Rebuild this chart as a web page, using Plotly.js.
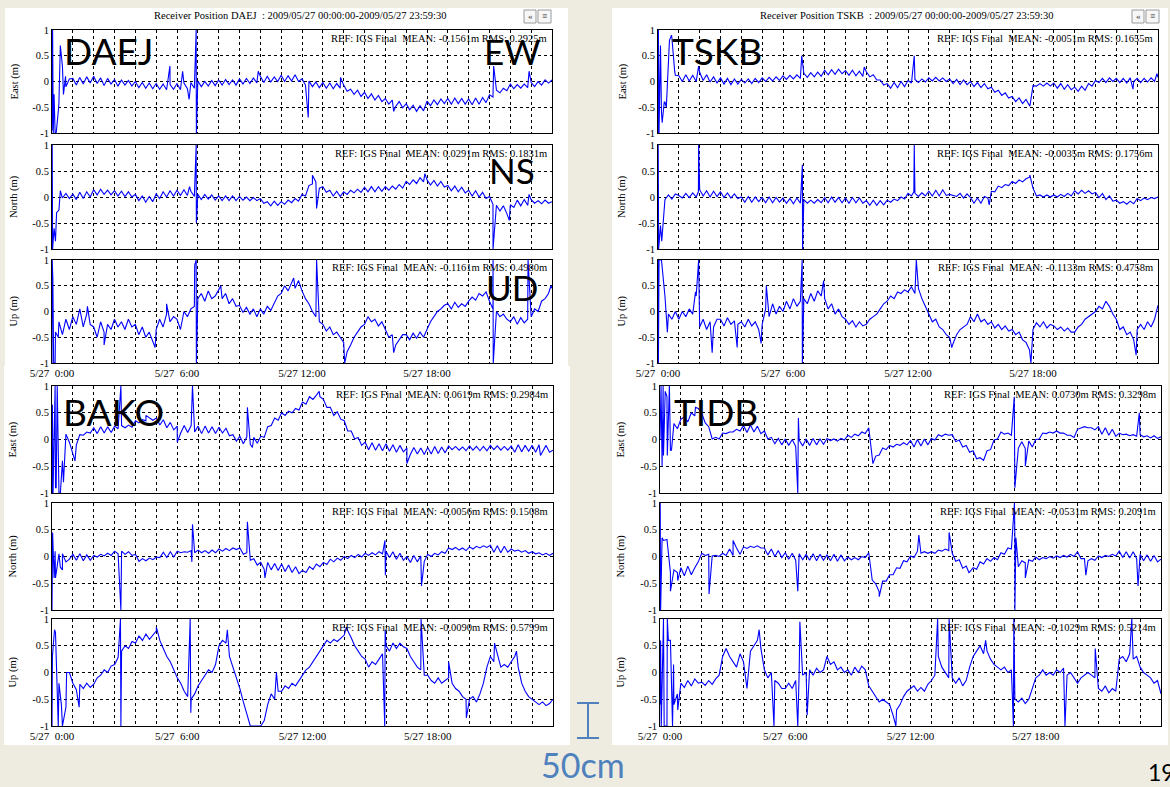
<!DOCTYPE html>
<html><head><meta charset="utf-8">
<script src="https://cdn.plot.ly/plotly-3.0.1.min.js"></script>
<style>html,body{margin:0;padding:0;background:#EEECE1;}#chart{width:1170px;height:787px;}</style>
</head><body><div id="chart"></div>
<script>
// ---------------- DATA ----------------
const STEP = 1/6; // hours between base samples (10 min), 00:00 .. 24:00
const hourTicks = [0,1,2,3,4,5,6,7,8,9,10,11,12,13,14,15,16,17,18,19,20,21,22,23,24];
const hourLabels = ['5/27\u00a0\u00a00:00','','','','','','5/27\u00a0\u00a06:00','','','','','','5/27 12:00','','','','','','5/27 18:00','','','','','',''];
const yTicks = [-1,-0.5,0,0.5,1];
const yLabels = ['-1','-0.5','0','0.5','1'];
const components = ['East (m)','North (m)','Up (m)'];
const panelTitles = ['Receiver Position DAEJ\u00a0\u00a0: 2009/05/27 00:00:00-2009/05/27 23:59:30',
                     'Receiver Position TSKB\u00a0\u00a0: 2009/05/27 00:00:00-2009/05/27 23:59:30'];

// DAEJ
const daejEast = [
 -0.95,-1.0,-0.4,0.3,-0.1,0.05, 0.06,-0.07,0.08,-0.05,0.09,-0.03, 0.1,-0.04,0.07,-0.08,0.06,-0.05,
 0.04,-0.09,0.03,-0.07,0.02,-0.09, 0.0,-0.12,-0.02,-0.13,-0.03,-0.14, -0.04,-0.15,-0.05,-0.16,-0.06,-0.15,
 -0.04,-0.16,-0.03,-0.14,-0.02,-0.13, 0.01,-0.1,0.0,-0.09,0.02,-0.08, 0.03,-0.07,0.04,-0.06,0.03,-0.07,
 0.05,-0.05,0.06,-0.04,0.07,-0.03, 0.1,-0.02,0.1,-0.01,0.09,0.0, 0.12,0.0,0.11,0.01,0.13,0.0,
 0.05,-0.07,0.01,-0.1,-0.01,-0.12, -0.02,-0.13,-0.03,-0.14,-0.04,-0.13, -0.07,-0.19,-0.15,-0.25,-0.17,-0.29,
 -0.21,-0.33,-0.24,-0.36,-0.27,-0.39, -0.33,-0.44,-0.36,-0.48,-0.39,-0.51, -0.43,-0.55,-0.46,-0.58,-0.47,-0.57,
 -0.38,-0.47,-0.36,-0.45,-0.34,-0.43, -0.33,-0.44,-0.32,-0.43,-0.33,-0.44, -0.34,-0.45,-0.32,-0.44,-0.31,-0.41,
 -0.26,-0.3,-0.17,-0.22,-0.13,-0.18, -0.05,-0.14,-0.06,-0.13,-0.05,-0.12, -0.02,-0.1,0.0,-0.07,0.03,-0.03, 0.03];
const daejEastSpikes = [[0.03,1.0],[0.06,-1.0],[0.1,-0.25],[0.15,-1.0],[0.2,-1.0],[0.32,-0.5],[0.4,0.7],[0.55,-0.25],[0.65,0.1],
 [5.66,0.3],[6.27,0.2],[6.58,-0.35],[6.92,1.0],[6.93,-1.0],[9.9,0.2],[12.3,-0.7],[13.85,0.08],[16.4,-0.58],[21.2,0.3],[22.9,0.2]];
const daejNorth = [
 -1.0,-0.85,-0.25,-0.02,0.07,-0.03, 0.06,-0.05,0.09,-0.03,0.1,0.0, 0.14,0.04,0.15,0.05,0.13,0.04,
 0.12,0.02,0.11,0.01,0.1,0.0, 0.05,-0.07,0.02,-0.1,0.01,-0.09, 0.06,-0.03,0.1,0.0,0.12,0.02,
 0.13,0.03,0.14,0.03,0.11,0.01, 0.05,-0.05,0.05,-0.04,0.04,-0.06, 0.02,-0.07,0.02,-0.07,0.02,-0.07,
 0.01,-0.06,0.0,-0.07,-0.01,-0.07, -0.03,-0.12,-0.09,-0.17,-0.08,-0.16, -0.09,-0.14,-0.06,-0.11,-0.03,-0.08,
 0.05,0.02,0.22,0.25,0.29,0.17, 0.2,0.09,0.13,0.02,0.11,0.01, 0.1,0.05,0.13,0.08,0.15,0.09,
 0.19,0.1,0.2,0.1,0.2,0.11, 0.2,0.13,0.21,0.15,0.24,0.17, 0.3,0.24,0.33,0.26,0.37,0.29,
 0.33,0.23,0.32,0.21,0.3,0.19, 0.22,0.12,0.21,0.1,0.19,0.08, 0.13,0.02,0.12,0.0,0.09,-0.03,
 0.01,-0.14,-0.16,-0.27,-0.17,-0.32, -0.15,-0.2,-0.06,-0.17,-0.05,-0.16, -0.05,-0.12,-0.07,-0.13,-0.06,-0.12, -0.09];
const daejNorthSpikes = [[0.01,1.0],[0.03,-1.0],[0.1,-0.6],[0.15,-0.85],[0.22,-0.3],[0.4,0.12],[6.6,0.2],[6.92,1.0],[6.93,-0.5],
 [12.5,0.42],[12.7,-0.22],[17.9,0.45],[21.17,-1.0],[21.95,-0.45],[22.9,0.05]];
const daejUp = [
 -1.0,-0.4,-0.2,-0.45,-0.15,-0.35, -0.1,-0.25,0.05,-0.3,-0.05,-0.25, -0.3,-0.5,-0.2,-0.4,-0.25,-0.35,
 -0.15,-0.3,-0.2,-0.35,-0.15,-0.3, -0.25,-0.45,-0.3,-0.5,-0.4,-0.6, -0.35,-0.15,-0.3,-0.05,-0.2,-0.1,
 -0.15,-0.35,0.0,-0.1,0.05,0.1, 0.25,0.35,0.2,0.4,0.25,0.3, 0.42,0.25,0.35,0.15,0.25,0.1,
 0.12,-0.02,0.08,-0.05,0.05,-0.1, 0.05,-0.05,0.1,0.02,0.15,0.3, 0.35,0.5,0.4,0.55,0.45,0.6,
 0.4,0.25,0.15,0.0,-0.1,-0.2, -0.25,-0.38,-0.3,-0.45,-0.4,-0.5, -0.6,-0.78,-0.65,-0.5,-0.4,-0.3,
 -0.25,-0.1,-0.2,-0.15,-0.28,-0.2, -0.35,-0.5,-0.45,-0.65,-0.55,-0.45, -0.45,-0.55,-0.42,-0.52,-0.4,-0.5,
 -0.35,-0.2,-0.1,0.0,0.05,0.12, 0.15,0.05,0.18,0.08,0.15,0.1, 0.2,0.28,0.22,0.35,0.3,0.38,
 0.2,0.05,0.0,-0.1,-0.05,-0.15, -0.2,-0.1,-0.25,-0.12,-0.22,-0.15, -0.1,0.05,0.0,0.2,0.25,0.35, 0.45];
const daejUpSpikes = [[0.01,1.0],[0.04,0.65],[0.08,-1.0],[0.15,-1.0],[0.3,-0.5],[1.7,0.1],[2.5,-0.65],[4.95,-0.7],[5.5,0.15],
 [6.85,0.9],[6.92,1.0],[6.93,-1.0],[8.1,0.5],[11.6,0.65],[12.7,1.0],[14.05,-1.0],[16.4,-0.8],[21.17,1.0],[21.18,-1.0],[22.85,1.0],[23.95,0.5]];

// TSKB
const tskbEast = [
 -1.0,-0.6,-0.4,0.6,0.85,0.12, 0.11,0.0,0.13,0.01,0.12,0.0, 0.18,0.02,0.13,-0.01,0.09,-0.03,
 0.07,-0.05,0.06,-0.06,0.05,-0.05, 0.04,-0.03,0.05,-0.04,0.06,-0.02, 0.07,0.0,0.08,0.01,0.09,0.02,
 0.11,0.04,0.12,0.05,0.13,0.06, 0.16,0.08,0.17,0.09,0.18,0.1, 0.22,0.13,0.23,0.14,0.24,0.15,
 0.21,0.12,0.22,0.11,0.2,0.1, 0.19,0.09,0.13,0.03,0.03,-0.07, -0.04,-0.13,-0.02,-0.12,0.0,-0.1,
 0.02,-0.03,0.04,-0.02,0.05,-0.01, 0.07,0.01,0.08,0.01,0.07,0.0, 0.05,-0.04,0.04,-0.06,0.03,-0.06,
 0.0,-0.1,-0.02,-0.12,-0.04,-0.14, -0.11,-0.21,-0.17,-0.27,-0.22,-0.32, -0.29,-0.39,-0.32,-0.43,-0.35,-0.47,
 -0.08,-0.09,-0.04,-0.09,-0.03,-0.09, -0.03,-0.13,-0.04,-0.15,-0.06,-0.16, -0.11,-0.19,-0.09,-0.17,-0.04,-0.09,
 0.02,-0.02,0.06,-0.02,0.07,0.0, 0.06,-0.02,0.06,-0.03,0.07,0.0, 0.06,-0.02,0.06,-0.01,0.07,0.0, 0.08];
const tskbEastSpikes = [[0.02,1.0],[0.05,-1.0],[0.12,0.7],[0.2,-0.8],[0.3,-0.4],[0.4,-0.5],[0.55,0.8],[0.65,0.9],[0.8,0.2],
 [1.95,0.3],[6.9,0.5],[9.9,0.28],[12.3,0.5],[17.85,-0.48],[22.8,-0.15],[23.95,0.15]];
const tskbNorth = [
 -1.0,-0.75,-0.05,0.04,-0.04,0.06, 0.03,-0.02,0.07,-0.01,0.08,0.0, 0.14,0.02,0.12,0.0,0.11,0.01,
 0.1,-0.01,0.08,-0.02,0.06,-0.03, 0.0,-0.1,0.01,-0.1,0.0,-0.09, -0.01,-0.11,0.0,-0.11,-0.01,-0.1,
 -0.02,-0.12,-0.03,-0.13,-0.02,-0.12, -0.05,-0.12,-0.06,-0.12,-0.05,-0.11, -0.01,-0.11,0.0,-0.1,-0.01,-0.11,
 -0.02,-0.12,-0.01,-0.11,-0.02,-0.12, -0.07,-0.16,-0.06,-0.16,-0.07,-0.15, -0.06,-0.1,-0.04,-0.07,0.0,-0.04,
 0.07,0.02,0.07,0.01,0.08,0.02, 0.11,0.02,0.13,0.02,0.14,0.03, 0.05,0.03,0.01,0.07,-0.02,0.06,
 -0.01,-0.12,-0.02,-0.12,0.01,-0.02, 0.11,0.1,0.21,0.18,0.24,0.22, 0.3,0.26,0.33,0.29,0.35,0.38,
 0.17,0.02,0.04,0.0,0.04,0.0, 0.04,0.0,0.05,0.01,0.07,0.02, 0.12,0.06,0.13,0.07,0.12,0.06,
 0.09,-0.01,0.07,-0.05,0.02,-0.08, -0.06,-0.12,-0.09,-0.14,-0.08,-0.13, -0.03,-0.07,-0.02,-0.05,-0.01,-0.03, 0.0];
const tskbNorthSpikes = [[0.01,1.0],[0.03,-1.0],[0.12,-0.55],[0.18,-0.85],[1.94,0.1],[1.95,1.0],[6.93,0.62],[6.94,-1.0],
 [12.28,0.1],[12.3,1.0],[15.9,-0.15],[17.85,0.42]];
const tskbUp = [
 1.0,1.0,0.3,-0.05,-0.15,0.0, -0.15,0.0,-0.1,0.05,-0.05,0.3, -0.3,-0.15,-0.35,-0.2,-0.3,-0.15,
 -0.15,-0.28,-0.12,-0.25,-0.18,-0.25, -0.2,-0.3,-0.15,-0.28,-0.2,-0.35, -0.25,0.05,-0.1,0.15,-0.05,0.1,
 0.0,0.2,0.05,0.25,0.1,0.2, 0.25,0.15,0.35,0.2,0.4,0.3, 0.25,0.05,0.15,-0.05,0.05,-0.1,
 -0.15,-0.25,-0.18,-0.3,-0.2,-0.28, -0.25,-0.15,-0.1,-0.05,0.05,0.15, 0.2,0.3,0.25,0.38,0.35,0.42,
 0.38,0.48,0.35,0.45,0.25,0.1, -0.05,-0.2,-0.15,-0.3,-0.35,-0.45, -0.5,-0.62,-0.45,-0.35,-0.3,-0.25,
 -0.1,-0.2,-0.05,-0.2,-0.15,-0.25, -0.2,-0.32,-0.25,-0.35,-0.28,-0.38, -0.35,-0.45,-0.4,-0.55,-0.6,-0.75,
 -0.35,-0.22,-0.3,-0.2,-0.32,-0.25, -0.28,-0.35,-0.3,-0.38,-0.32,-0.4, -0.4,-0.3,-0.25,-0.15,-0.1,-0.05,
 0.0,0.1,0.05,0.2,0.1,-0.05, -0.15,-0.35,-0.3,-0.45,-0.4,-0.55, -0.35,-0.25,-0.35,-0.2,-0.3,-0.15, 0.12];
const tskbUpSpikes = [[0.02,-1.0],[0.05,1.0],[0.45,-0.4],[1.8,0.38],[1.95,1.0],[2.6,-0.8],[3.8,-0.7],
 [4.95,-0.62],[5.2,0.5],[6.92,1.0],[6.93,-1.0],[7.95,0.6],[12.35,0.6],[12.4,1.0],[14.1,-0.7],[17.9,-1.0],[22.95,-0.85]];

// BAKO
const bakoEast = [
 -1.0,-0.9,-1.0,-0.4,0.1,-0.05, -0.3,-0.1,0.09,0.08,0.14,0.12, 0.22,0.11,0.24,0.12,0.24,0.13,
 0.25,0.2,0.26,0.22,0.27,0.23, 0.35,0.31,0.37,0.35,0.4,0.36, 0.4,0.27,0.37,0.22,0.32,0.18,
 0.25,0.12,0.26,0.13,0.26,0.14, 0.25,0.11,0.25,0.12,0.24,0.11, 0.23,0.12,0.21,0.07,0.09,-0.03,
 0.06,-0.08,0.05,-0.09,0.04,-0.07, 0.06,0.04,0.24,0.26,0.4,0.36, 0.5,0.45,0.53,0.5,0.58,0.55,
 0.7,0.66,0.8,0.75,0.83,0.8, 0.75,0.6,0.6,0.45,0.52,0.38, 0.35,0.16,0.16,0.01,0.04,-0.11,
 -0.05,-0.19,-0.06,-0.2,-0.08,-0.21, -0.08,-0.22,-0.1,-0.24,-0.11,-0.23, -0.16,-0.28,-0.15,-0.27,-0.16,-0.28,
 -0.15,-0.27,-0.13,-0.26,-0.14,-0.25, -0.12,-0.19,-0.13,-0.2,-0.14,-0.21, -0.12,-0.2,-0.13,-0.21,-0.13,-0.21,
 -0.11,-0.19,-0.12,-0.2,-0.13,-0.2, -0.12,-0.24,-0.1,-0.23,-0.11,-0.22, -0.11,-0.24,-0.1,-0.23,-0.11,-0.24, -0.2];
const bakoEastSpikes = [[0.02,0.65],[0.05,-1.0],[0.15,1.0],[0.2,-0.9],[0.25,1.0],[0.4,-1.0],[0.55,-0.8],[1.1,-0.4],[3.3,1.0],
 [4.5,0.45],[6.0,-0.05],[6.73,1.0],[9.36,0.6],[9.6,-0.15],[12.8,0.9],[17.0,-0.45],[23.4,-0.3]];
const bakoNorth = [
 -1.0,-0.4,0.05,-0.25,-0.1,-0.05, 0.04,-0.07,0.05,-0.08,0.03,-0.07, 0.02,-0.01,0.04,0.01,0.06,0.02,
 0.1,0.05,0.1,0.04,0.09,0.02, 0.04,-0.09,-0.04,-0.08,-0.03,-0.06, -0.01,-0.02,0.08,-0.02,0.09,-0.01,
 0.1,0.07,0.09,0.08,0.11,0.07, 0.12,0.07,0.11,0.06,0.12,0.07, 0.14,0.1,0.15,0.11,0.16,0.13,
 0.16,0.04,0.07,-0.07,-0.04,-0.16, -0.11,-0.24,-0.11,-0.25,-0.13,-0.26, -0.14,-0.28,-0.16,-0.3,-0.19,-0.32,
 -0.26,-0.3,-0.19,-0.24,-0.14,-0.19, -0.11,-0.15,-0.05,-0.1,-0.03,-0.07, 0.0,-0.04,0.02,-0.02,0.04,-0.01,
 0.06,0.02,0.07,0.03,0.09,0.05, 0.1,-0.02,0.09,-0.05,0.06,-0.07, 0.0,-0.11,0.02,-0.1,0.01,-0.09,
 0.04,0.0,0.06,0.03,0.09,0.06, 0.16,0.13,0.17,0.12,0.16,0.11, 0.18,0.14,0.19,0.16,0.2,0.17,
 0.21,0.08,0.2,0.07,0.19,0.08, 0.14,0.1,0.12,0.08,0.11,0.06, 0.09,0.05,0.07,0.03,0.06,0.02, 0.06];
const bakoNorthSpikes = [[0.03,0.45],[0.1,-0.4],[0.15,0.1],[0.4,-0.2],[0.5,0.05],[3.3,-1.0],[6.7,-0.1],[6.73,0.6],[9.36,0.65],
 [10.2,-0.4],[15.95,0.3],[15.97,-0.35],[17.7,-0.55]];
const bakoUp = [
 -1.0,0.75,-0.2,-1.0,-0.65,0.0, -0.2,-0.32,-0.22,-0.3,-0.2,-0.28, -0.22,-0.1,-0.05,0.05,0.0,0.12,
 0.15,0.28,0.4,0.5,0.45,0.58, 0.55,0.68,0.6,0.72,0.62,0.7, 0.78,0.6,0.45,0.3,0.2,0.05,
 -0.1,-0.2,-0.35,-0.45,-0.5,-0.4, -0.25,-0.15,-0.05,0.05,0.0,0.15, 0.5,0.6,0.55,0.3,0.1,-0.1,
 -0.3,-0.55,-0.8,-1.0,-1.0,-1.0, -1.0,-0.9,-0.6,-0.4,-0.5,-0.35, -0.35,-0.25,-0.3,-0.2,-0.25,-0.15,
 -0.05,0.05,0.1,0.2,0.3,0.4, 0.5,0.6,0.55,0.62,0.58,0.65, 0.7,0.78,0.65,0.5,0.4,0.3,
 0.25,0.1,0.2,0.15,0.25,0.35, 0.5,0.4,0.55,0.45,0.55,0.48, 0.45,0.3,0.2,0.1,0.05,-0.05,
 -0.05,-0.15,-0.2,-0.1,-0.2,-0.15, -0.1,-0.2,-0.3,-0.35,-0.45,-0.5, -0.5,-0.45,-0.55,-0.4,-0.2,0.1,
 0.3,0.2,0.35,0.1,0.15,0.1, 0.2,0.3,0.1,-0.2,-0.35,-0.45, -0.5,-0.55,-0.6,-0.55,-0.62,-0.58, -0.5];
const bakoUpSpikes = [[0.02,0.3],[0.12,0.8],[0.3,-1.0],[0.45,-0.6],[0.7,0.0],[1.3,-0.65],[3.28,1.0],[3.3,-1.0],[5.0,0.85],
 [6.62,1.0],[6.65,-0.75],[8.4,0.8],[10.75,0.0],[14.1,0.85],[15.94,-1.0],[15.96,0.8],[17.68,1.0],[19.0,0.2],[19.85,-0.85],[21.2,0.55],[22.25,0.4]];

// TIDB
const tidbEast = [
 0.0,-0.3,0.8,-0.2,0.3,0.2, 0.38,0.42,0.33,0.5,0.44,0.58, 0.49,0.31,0.24,0.01,0.04,0.01,
 0.12,0.11,0.14,0.14,0.19,0.16, 0.26,0.13,0.27,0.14,0.25,0.11, 0.16,0.01,0.04,-0.08,0.02,-0.1,
 0.01,-0.11,0.0,-0.13,-0.01,-0.12, 0.01,-0.11,0.02,-0.1,0.01,-0.09, 0.02,-0.02,0.01,-0.03,0.02,-0.01,
 0.08,0.04,0.1,0.07,0.14,0.11, 0.22,-0.29,-0.31,-0.29,-0.16,-0.19, -0.11,-0.14,-0.09,-0.11,-0.06,-0.1,
 -0.02,-0.14,0.0,-0.12,0.01,-0.1, 0.02,-0.01,0.09,0.06,0.1,0.08, 0.09,-0.04,-0.01,-0.14,-0.11,-0.24,
 -0.21,-0.36,-0.34,-0.39,-0.21,-0.19, -0.01,0.01,0.14,0.1,0.12,0.08, -0.01,-0.16,-0.04,-0.17,-0.03,-0.14,
 0.0,0.01,0.12,0.11,0.14,0.12, 0.16,0.12,0.12,0.08,0.08,0.04, 0.19,0.21,0.24,0.22,0.22,0.18,
 0.24,0.1,0.22,0.08,0.19,0.06, 0.12,0.09,0.1,0.07,0.09,0.06, 0.09,0.05,0.07,0.03,0.07,0.02, 0.05];
const tidbEastSpikes = [[0.05,1.0],[0.1,-0.5],[0.15,1.0],[0.25,0.9],[0.35,-0.3],[0.45,1.0],[0.55,-0.2],[1.7,0.6],[6.6,-1.0],
 [6.63,0.4],[10.2,-0.45],[16.97,0.8],[17.0,-0.9],[17.5,-0.5],[22.96,0.5]];
const tidbNorth = [
 -1.0,0.3,0.32,-0.3,-0.25,-0.3, -0.21,-0.36,-0.18,-0.34,-0.21,-0.1, 0.06,0.02,0.04,0.01,0.02,0.0,
 0.06,0.02,0.14,0.02,0.16,0.04, 0.18,0.15,0.19,0.17,0.2,0.16, 0.16,0.03,0.14,0.0,0.11,-0.02,
 0.07,-0.05,0.06,-0.07,0.05,-0.06, 0.04,-0.07,0.05,-0.08,0.04,-0.07, 0.03,-0.08,0.04,-0.09,0.03,-0.08,
 -0.01,-0.06,-0.02,-0.06,0.0,-0.02, 0.07,-0.44,-0.51,-0.66,-0.46,-0.46, -0.34,-0.34,-0.21,-0.22,-0.08,-0.1,
 0.01,-0.02,0.1,0.06,0.09,0.06, 0.09,0.06,0.12,0.1,0.14,0.11, 0.06,-0.09,-0.06,-0.22,-0.18,-0.29,
 -0.21,-0.24,-0.1,-0.14,-0.04,-0.09, -0.02,-0.06,0.07,0.04,0.16,0.14, 0.3,-0.19,-0.08,-0.12,-0.06,-0.09,
 -0.01,-0.06,-0.02,-0.04,0.0,-0.03, 0.01,-0.02,0.02,-0.01,0.04,0.0, 0.09,-0.04,-0.04,-0.08,-0.04,-0.07,
 0.01,-0.02,0.02,0.0,0.04,0.01, 0.1,-0.02,0.09,-0.03,0.09,-0.04, 0.04,-0.08,0.03,-0.09,0.02,-0.1, -0.05];
const tidbNorthSpikes = [[0.01,1.0],[0.03,-1.0],[0.1,0.35],[0.5,-0.65],[0.85,-0.45],[2.35,-0.7],[3.5,0.3],[6.6,-0.65],
 [10.5,-0.75],[12.4,0.4],[13.85,0.45],[14.8,-0.3],[16.98,1.0],[17.0,-1.0],[17.05,0.35],[17.5,-0.4],[20.4,-0.35],[22.9,-0.55]];
const tidbUp = [
 -0.6,1.0,-1.0,0.6,-0.6,-0.4, -0.2,-0.28,-0.15,-0.25,-0.12,-0.2, -0.18,-0.24,-0.15,-0.22,-0.12,-0.05,
 0.3,0.45,0.3,0.2,0.1,0.35, 0.2,-0.3,0.4,0.5,0.6,0.45, 0.05,-0.1,0.0,-0.15,-0.2,-0.3,
 -0.3,-0.2,-0.3,-0.15,0.0,-0.05, 0.0,0.05,-0.05,0.08,0.0,0.05, 0.3,0.15,0.2,0.05,0.1,0.0,
 0.05,-0.05,0.1,0.0,0.12,0.05, -0.25,-0.35,-0.45,-0.55,-0.5,-0.55, -0.6,-0.8,-0.7,-0.6,-0.45,-0.35,
 -0.3,-0.25,-0.35,-0.28,-0.35,-0.22, -0.15,-0.05,0.3,0.1,0.0,-0.1, -0.1,-0.2,-0.1,-0.25,-0.15,0.1,
 0.3,0.4,0.5,0.35,0.4,0.25, 0.15,0.1,0.05,0.1,0.0,0.05, -0.5,-0.55,-0.48,-0.58,-0.5,-0.3,
 -0.1,-0.05,0.05,-0.05,0.0,-0.05, 0.05,0.0,0.08,-0.05,0.0,-0.1, -0.2,-0.1,-0.05,0.0,-0.05,-0.1,
 -0.3,-0.35,-0.25,-0.38,-0.3,-0.35, 0.25,0.3,0.2,0.35,0.25,0.3, 0.1,0.0,-0.05,-0.1,-0.2,-0.15, -0.4];
const tidbUpSpikes = [[0.03,0.6],[0.06,-1.0],[0.15,1.0],[0.2,-1.0],[0.35,1.0],[0.4,0.6],[0.6,-1.0],[0.65,0.15],[0.85,-0.7],
 [4.75,0.8],[5.46,-1.0],[6.6,-1.0],[6.7,0.95],[7.05,-0.8],[11.3,-1.0],[13.3,1.0],[13.85,1.0],[15.6,0.6],[16.93,-1.0],[16.95,1.0],
 [19.4,-1.0],[20.85,0.45],[22.6,1.0]];

const statTexts = {
 DAEJ:['REF: IGS Final\u00a0\u00a0MEAN: -0.1561m RMS: 0.2925m','REF: IGS Final\u00a0\u00a0MEAN: 0.0291m RMS: 0.1831m','REF: IGS Final\u00a0\u00a0MEAN: -0.1161m RMS: 0.4980m'],
 TSKB:['REF: IGS Final\u00a0\u00a0MEAN: -0.0051m RMS: 0.1655m','REF: IGS Final\u00a0\u00a0MEAN: -0.0035m RMS: 0.1756m','REF: IGS Final\u00a0\u00a0MEAN: -0.1133m RMS: 0.4758m'],
 BAKO:['REF: IGS Final\u00a0\u00a0MEAN: 0.0619m RMS: 0.2984m','REF: IGS Final\u00a0\u00a0MEAN: -0.0056m RMS: 0.1508m','REF: IGS Final\u00a0\u00a0MEAN: -0.0090m RMS: 0.5799m'],
 TIDB:['REF: IGS Final\u00a0\u00a0MEAN: 0.0730m RMS: 0.3298m','REF: IGS Final\u00a0\u00a0MEAN: -0.0531m RMS: 0.2091m','REF: IGS Final\u00a0\u00a0MEAN: -0.1029m RMS: 0.5214m']
};
const componentTags = ['EW','NS','UD'];
const scaleLabel = '50cm';
const pageNumber = '19';

// ---------------- LAYOUT GEOMETRY ----------------
const W = 1170, H = 787;
const px = x => x / W;
const py = y => 1 - y / H;
const SERIF = 'Liberation Serif, Times New Roman, serif';
const SANS = 'Lato, Open Sans, sans-serif';

const panels = [
 {name:'DAEJ', x0:52, x1:552, rows:[[30,133],[145,249],[260,363]], yt:14, lab:[62,51],
  data:[[daejEast,daejEastSpikes],[daejNorth,daejNorthSpikes],[daejUp,daejUpSpikes]]},
 {name:'TSKB', x0:658, x1:1158, rows:[[30,133],[145,249],[260,363]], yt:622, lab:[670,51],
  data:[[tskbEast,tskbEastSpikes],[tskbNorth,tskbNorthSpikes],[tskbUp,tskbUpSpikes]]},
 {name:'BAKO', x0:52, x1:553, rows:[[386,493],[503,610],[619,726]], yt:12, lab:[61,411],
  data:[[bakoEast,bakoEastSpikes],[bakoNorth,bakoNorthSpikes],[bakoUp,bakoUpSpikes]]},
 {name:'TIDB', x0:660, x1:1161, rows:[[386,493],[503,610],[619,726]], yt:620, lab:[672,411],
  data:[[tidbEast,tidbEastSpikes],[tidbNorth,tidbNorthSpikes],[tidbUp,tidbUpSpikes]]}
];

function buildSeries(base, spikes) {
  const pts = base.map((v, i) => [i * STEP, v]).concat(spikes);
  pts.sort((a, b) => a[0] - b[0]);
  return {x: pts.map(p => p[0]), y: pts.map(p => p[1])};
}

const traces = [];
const layout = {
  width: W, height: H,
  margin: {l:0, r:0, t:0, b:0},
  paper_bgcolor: '#EEECE1',
  plot_bgcolor: '#FFFFFF',
  showlegend: false,
  shapes: [], annotations: []
};

// white screenshot backgrounds
[[5,568,8,368],[4,570,366,745],[612,1168,8,380],[612,1168,380,745]].forEach(r => {
  layout.shapes.push({type:'rect', xref:'paper', yref:'paper', x0:px(r[0]), x1:px(r[1]), y0:py(r[3]), y1:py(r[2]),
    fillcolor:'#FFFFFF', line:{width:0}, layer:'below'});
});

let n = 0;
panels.forEach((p) => {
  p.data.forEach((d, ci) => {
    n++;
    const xa = n === 1 ? 'xaxis' : 'xaxis' + n;
    const ya = n === 1 ? 'yaxis' : 'yaxis' + n;
    const xr = n === 1 ? 'x' : 'x' + n;
    const yr = n === 1 ? 'y' : 'y' + n;
    const s = buildSeries(d[0], d[1]);
    traces.push({type:'scatter', mode:'lines', x:s.x, y:s.y, xaxis:xr, yaxis:yr,
      line:{color:'#0000FF', width:1.1}, hoverinfo:'skip'});
    const row = p.rows[ci];
    layout[xa] = {domain:[px(p.x0), px(p.x1)], anchor:yr, range:[0,24], fixedrange:true,
      tickmode:'array', tickvals:hourTicks, ticktext:hourLabels, showticklabels: ci === 2,
      ticks:'', showgrid:true, gridcolor:'#000000', gridwidth:1, griddash:'3px,3px',
      showline:true, mirror:true, linecolor:'#000000', linewidth:1, zeroline:false,
      tickfont:{family:SERIF, size:11, color:'#000'}};
    layout[ya] = {domain:[py(row[1]), py(row[0])], anchor:xr, range:[-1,1], fixedrange:true,
      tickmode:'array', tickvals:yTicks, ticktext:yLabels, ticks:'',
      showgrid:true, gridcolor:'#000000', gridwidth:1, griddash:'3px,3px',
      showline:true, mirror:true, linecolor:'#000000', linewidth:1, zeroline:false,
      tickfont:{family:SERIF, size:10.5, color:'#000'}};
    layout.annotations.push({xref:'paper', yref:'paper', x:px(p.yt), y:py((row[0]+row[1])/2),
      text:components[ci], textangle:-90, showarrow:false, xanchor:'center', yanchor:'middle',
      font:{family:SERIF, size:10.5, color:'#000'}});
    layout.annotations.push({xref:'paper', yref:'paper', x:px(p.x1-3), y:py(row[0]+8),
      text:statTexts[p.name][ci], showarrow:false, xanchor:'right', yanchor:'middle',
      font:{family:SERIF, size:10.5, color:'#000'}});
  });
  layout.annotations.push({xref:'paper', yref:'paper', x:px(p.lab[0]), y:py(p.lab[1]), text:p.name,
    showarrow:false, xanchor:'left', yanchor:'middle', font:{family:SANS, size:37, color:'#000'}});
});

// panel titles and buttons
[[300,0],[907,1]].forEach(t => {
  layout.annotations.push({xref:'paper', yref:'paper', x:px(t[0]), y:py(16), text:panelTitles[t[1]],
    showarrow:false, xanchor:'center', yanchor:'middle', font:{family:SERIF, size:10.5, color:'#000'}});
});
[[524,536,'\u00ab'],[538,551,'\u2261'],[1132,1144,'\u00ab'],[1146,1159,'\u2261']].forEach(b => {
  layout.shapes.push({type:'rect', xref:'paper', yref:'paper', x0:px(b[0]), x1:px(b[1]), y0:py(23), y1:py(10),
    fillcolor:'#F7F7F7', line:{color:'#9A9A9A', width:1}});
  layout.annotations.push({xref:'paper', yref:'paper', x:px((b[0]+b[1])/2), y:py(16.5), text:b[2],
    showarrow:false, xanchor:'center', yanchor:'middle', font:{family:SERIF, size:9, color:'#333'}});
});

// component tags on DAEJ
[[482,51],[487,170],[484,287]].forEach((pos, i) => {
  layout.annotations.push({xref:'paper', yref:'paper', x:px(pos[0]), y:py(pos[1]), text:componentTags[i],
    showarrow:false, xanchor:'left', yanchor:'middle', font:{family:SANS, size:35, color:'#000'}});
});

// scale bar (50 cm) and label
const blue = '#4F81BD';
layout.shapes.push({type:'line', xref:'paper', yref:'paper', x0:px(588), x1:px(588), y0:py(703), y1:py(738), line:{color:blue, width:2}});
layout.shapes.push({type:'line', xref:'paper', yref:'paper', x0:px(577), x1:px(599), y0:py(703), y1:py(703), line:{color:blue, width:2}});
layout.shapes.push({type:'line', xref:'paper', yref:'paper', x0:px(577), x1:px(599), y0:py(738), y1:py(738), line:{color:blue, width:2}});
layout.annotations.push({xref:'paper', yref:'paper', x:px(583), y:py(764), text:scaleLabel, showarrow:false,
  xanchor:'center', yanchor:'middle', font:{family:SANS, size:34, color:blue}});
layout.annotations.push({xref:'paper', yref:'paper', x:px(1146), y:py(772), text:pageNumber, showarrow:false,
  xanchor:'left', yanchor:'middle', font:{family:SANS, size:23, color:'#000'}});

Plotly.newPlot('chart', traces, layout, {staticPlot:true, displayModeBar:false});
</script></body></html>
